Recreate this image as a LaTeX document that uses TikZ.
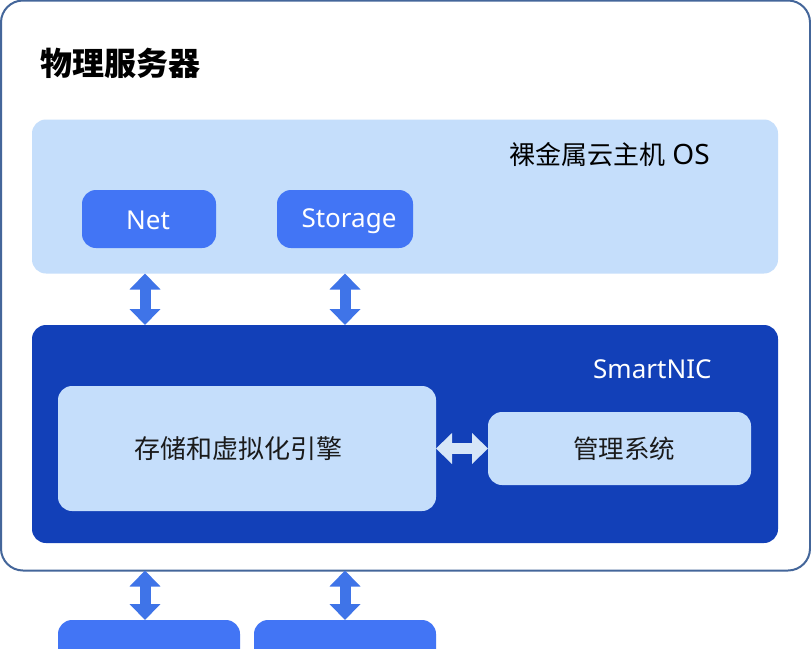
\documentclass[tikz,border=0pt]{standalone}
\usepackage{fontspec}
\setmainfont{Noto Sans}
\newfontfamily\cjk{Noto Sans CJK SC}
\usetikzlibrary{arrows.meta}
\definecolor{framec}{HTML}{44669A}
\definecolor{lightc}{HTML}{C5DEFB}
\definecolor{midc}{HTML}{4275F5}
\definecolor{darkc}{HTML}{1240B8}
\definecolor{arrowc}{HTML}{3F74E8}
\definecolor{arrowl}{HTML}{D6E6F8}
\definecolor{textc}{HTML}{1A1A1A}
\tikzset{
  x=1pt,y=-1pt,
  panel/.style={anchor=north west,inner sep=0pt,outer sep=0pt,rounded corners=#1},
  panel/.default=14pt,
  oslayer/.style={panel=14pt,fill=lightc,minimum width=746pt,minimum height=154pt},
  niclayer/.style={panel=14pt,fill=darkc,minimum width=746pt,minimum height=218pt},
  bluebox/.style={panel=14pt,fill=midc},
  palebox/.style={panel=14pt,fill=lightc},
  bothways/.style={line width=11pt,arrowc,{Triangle[width=30pt,length=16pt]}-{Triangle[width=30pt,length=16pt]}},
  label/.style={inner sep=0pt,anchor=base west},
  caption/.style={inner sep=0pt},
}
\begin{document}
\begin{tikzpicture}
\useasboundingbox (0,0) rectangle (811,648);
\clip (0,0) rectangle (811,648);
\fill[white] (0,0) rectangle (811,648);
% outer frame
\node[panel=22pt,draw=framec,line width=2pt,fill=white,minimum width=809pt,minimum height=570pt] (server) at (1,0.5) {};
\node[label,font=\cjk\bfseries\fontsize{32}{38}\selectfont,text=black] (title) at (40.5,75) {物理服务器};
% layers
\node[oslayer] (os) at (32,119.5) {};
\node[niclayer] (nic) at (32,325) {};
\node[label,font=\fontsize{28}{33}\selectfont,text=black] (oslabel) at (509,164) {{\cjk\fontsize{26}{31}\selectfont 裸金属云主机} OS};
\node[label,font=\fontsize{26}{31}\selectfont,text=white] (niclabel) at (593,378) {SmartNIC};
% boxes
\node[bluebox,minimum width=134pt,minimum height=58pt] (net) at (82,190) {};
\node[caption,font=\fontsize{26}{31}\selectfont,text=white] (nettext) at (148,220.5) {Net};
\node[bluebox,minimum width=136pt,minimum height=58pt] (storage) at (277,190) {};
\node[caption,font=\fontsize{26}{31}\selectfont,text=white] (storagetext) at (349,221) {Storage};
\node[palebox,minimum width=378pt,minimum height=125pt] (engine) at (58,386) {};
\node[caption,font=\cjk\fontsize{26}{31}\selectfont,text=textc] (enginetext) at (238,449) {存储和虚拟化引擎};
\node[palebox,minimum width=263pt,minimum height=73pt] (mgmt) at (488,412) {};
\node[caption,font=\cjk\fontsize{25.5}{31}\selectfont,text=textc] (mgmttext) at (624,449) {管理系统};
\node[bluebox,minimum width=182pt,minimum height=60pt] (hw1) at (58,620) {};
\node[bluebox,minimum width=182pt,minimum height=60pt] (hw2) at (254,620) {};
% connectors
\coordinate (c1) at (145,300);
\coordinate (c2) at (345,300);
\draw[bothways] (os.south -| c1) -- (nic.north -| c1);
\draw[bothways] (os.south -| c2) -- (nic.north -| c2);
\draw[bothways] (server.south -| c1) -- (hw1.north -| c1);
\draw[bothways] (server.south -| c2) -- (hw2.north -| c2);
\draw[bothways,arrowl] (engine.east |- mgmt.west) -- (mgmt.west);
\end{tikzpicture}
\end{document}
